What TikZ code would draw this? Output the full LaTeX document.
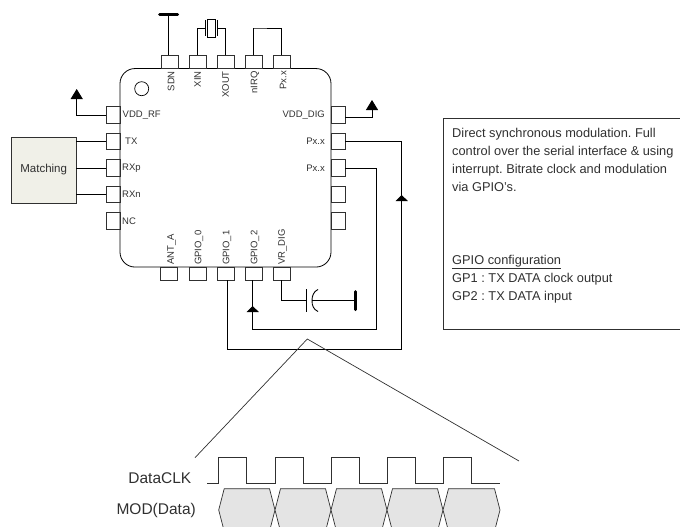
\documentclass[tikz,border=0pt]{standalone}
\usepackage{fontspec}
\setmainfont{Liberation Sans}
\usetikzlibrary{arrows.meta, positioning}
\definecolor{inkgray}{HTML}{303030}
\definecolor{matchfill}{HTML}{F0F0E8}
\definecolor{hexfill}{HTML}{E4E4E4}
\frenchspacing
\tikzset{
    wire/.style={draw=black, line width=.9pt},
    thin wire/.style={draw=inkgray, line width=.7pt},
    supply/.style={-{Triangle[width=12pt,length=10pt]}},
    midtip/.style={-{Triangle[width=12pt,length=6pt]}, draw=black, line width=.9pt},
    bar/.style={draw=black, line width=3pt, line cap=round},
    hpin/.style={draw=inkgray, line width=.8pt, minimum width=17pt, minimum height=13pt, inner sep=0pt, outer sep=0pt},
    vpin/.style={draw=inkgray, line width=.8pt, minimum width=14pt, minimum height=16.5pt, inner sep=0pt, outer sep=0pt},
    pinlabel/.style={font=\fontsize{9.5}{11}\selectfont, text=inkgray, inner sep=0pt},
    toplabel/.style={pinlabel, rotate=90, anchor=east},
    botlabel/.style={pinlabel, rotate=90, anchor=west},
    notetext/.style={font=\fontsize{12.8}{17.8}\selectfont, text=inkgray, align=left, inner sep=0pt, anchor=north west},
    wavelabel/.style={font=\fontsize{15.5}{18}\selectfont, text=inkgray, inner sep=0pt}
}

\begin{document}
\begin{tikzpicture}[x=1pt, y=-1pt]
    \useasboundingbox (0,0) rectangle (680,527);

    % chip and pins
    \node[draw=black, line width=.8pt, rounded corners=15pt, minimum width=211pt, minimum height=198.5pt, inner sep=0pt, outer sep=0pt] (chip) at (225.5,167.8) {};
    \node[hpin] (sdn) at (169.5,62) {};
    \node[hpin] (xin)[right=11pt of sdn]   {};
    \node[hpin] (xout)[right=11pt of xin]  {};
    \node[hpin] (nirq)[right=11pt of xout] {};
    \node[hpin] (pxtop)[right=11pt of nirq] {};
    \node[hpin] (anta) at (169,273.5) {};
    \node[hpin] (gpio0) at (197.5,273.5)    {};
    \node[hpin] (gpio1)[right=11pt of gpio0] {};
    \node[hpin] (gpio2)[right=11pt of gpio1] {};
    \node[hpin] (vrdig)[right=11pt of gpio2] {};
    \node[vpin] (vddrf) at (113,115) {};
    \node[vpin] (tx)[below=10pt of vddrf] {};
    \node[vpin] (rxp)[below=10pt of tx]   {};
    \node[vpin] (rxn)[below=10pt of rxp]  {};
    \node[vpin] (nc)[below=10pt of rxn]   {};
    \node[vpin] (vdddig) at (338,115) {};
    \node[vpin] (pxa)[below=10pt of vdddig] {};
    \node[vpin] (pxb)[below=10pt of pxa]    {};
    \node[vpin] (pxc)[below=10pt of pxb]    {};
    \node[vpin] (pxd)[below=10pt of pxc]    {};
    \node[draw=black, line width=.7pt, circle, minimum size=14pt, inner sep=0pt] (dot) at (141.7,88.7) {};

    % pin labels
    \node[toplabel] (sdnlabel) at ([xshift=1.5pt,yshift=-2.5pt]sdn.south) {SDN};
    \node[toplabel] (xinlabel) at ([yshift=-2.5pt]xin.south) {XIN};
    \node[toplabel] (xoutlabel) at ([yshift=-2.5pt]xout.south) {XOUT};
    \node[toplabel] (nirqlabel) at ([xshift=1.5pt,yshift=-2.5pt]nirq.south) {nIRQ};
    \node[toplabel] (pxtoplabel) at ([xshift=1.5pt,yshift=-2.5pt]pxtop.south) {Px.x};
    \node[botlabel] (antalabel) at ([xshift=2.5pt,yshift=2pt]anta.north) {ANT\_A};
    \node[botlabel] (gpio0label) at ([xshift=1.5pt,yshift=2pt]gpio0.north) {GPIO\_0};
    \node[botlabel] (gpio1label) at ([xshift=1.5pt,yshift=2pt]gpio1.north) {GPIO\_1};
    \node[botlabel] (gpio2label) at ([xshift=1.5pt,yshift=2pt]gpio2.north) {GPIO\_2};
    \node[botlabel] (vrdiglabel) at ([xshift=1pt,yshift=2pt]vrdig.north) {VR\_DIG};
    \node[pinlabel, right=2.5pt of vddrf] (vddrflabel) {VDD\_RF};
    \node[pinlabel, right=5pt of tx]      (txlabel)    {TX};
    \node[pinlabel, right=2pt of rxp]     (rxplabel)   {RXp};
    \node[pinlabel, right=2pt of rxn]     (rxnlabel)   {RXn};
    \node[pinlabel, right=2pt of nc]      (nclabel)    {NC};
    \node[pinlabel, left=6pt of vdddig]   (vdddiglabel) {VDD\_DIG};
    \node[pinlabel, left=6pt of pxa]      (pxalabel)   {Px.x};
    \node[pinlabel, left=6pt of pxb]      (pxblabel)   {Px.x};

    % matching network
    \node[draw=inkgray, line width=.9pt, fill=matchfill, minimum width=64.5pt, minimum height=66pt, inner sep=0pt, outer sep=0pt, font=\fontsize{11.5}{13}\selectfont, text=inkgray] (matching) at (43.7,170) {Matching};
    \draw[wire]
        (tx.west)  -- (tx.west -| matching.east)
        (rxp.west) -- (rxp.west -| matching.east)
        (rxn.west) -- (rxn.west -| matching.east);

    % sdn tie and nirq loop
    \coordinate (sdnbar) at (168.7,15);
    \draw[bar] ([xshift=-9pt]sdnbar) -- ([xshift=9pt]sdnbar);
    \draw[wire] (sdnbar) -- (sdnbar |- sdn.north);
    \coordinate (nirqtop) at (253,28);
    \draw[wire] (nirq.north) |- (nirqtop) -| (pxtop.north);

    % crystal
    \node[draw=black, line width=.8pt, minimum width=7.5pt, minimum height=18pt, inner sep=0pt, outer sep=0pt] (crystal) at (211.4,28) {};
    \coordinate[left=6pt of crystal.center]  (xtala);
    \coordinate[right=6.3pt of crystal.center] (xtalb);
    \draw[wire] ([yshift=8pt]xtala) -- ([yshift=-8pt]xtala);
    \draw[wire] ([yshift=8pt]xtalb) -- ([yshift=-8pt]xtalb);
    \draw[wire] (xin.north) |- (xtala);
    \draw[wire] (xout.north) |- (xtalb);

    % supplies
    \coordinate (rfsupply) at (76.7,89);
    \coordinate (digsupply) at (372,100);
    \draw[wire, supply] (vddrf.west) -| (rfsupply);
    \draw[wire, supply] ([yshift=-2.5pt]vdddig.east) -| (digsupply);

    % gpio wires
    \coordinate (busa) at (401.7,349);
    \coordinate (busb) at (376.7,329.7);
    \draw[wire] (pxa.east) -| (busa) -| ([xshift=1.5pt]gpio1.south);
    \draw[wire] (pxb.east) -| (busb) -| ([xshift=-.8pt]gpio2.south);
    \coordinate (tipa) at (401.7,195);
    \coordinate (tipb) at (252.7,306);
    \draw[midtip] ([yshift=-6pt]tipa) -- (tipa);
    \draw[midtip] ([yshift=-6pt]tipb) -- (tipb);

    % vr_dig capacitor
    \coordinate (capa) at (306.7,300.7);
    \coordinate (capb) at (312,300.7);
    \coordinate (capgnd) at (355.7,300.7);
    \draw[wire] (vrdig.south) |- (capa);
    \draw[wire] ([yshift=11.3pt]capa) -- ([yshift=-11.3pt]capa);
    \draw[wire] (318,289.5) .. controls (313.5,291.5) and (312,296) .. (capb) .. controls (312,305.5) and (313.5,309.5) .. (318,311.5);
    \draw[wire] (capb) -- (capgnd);
    \draw[bar] ([yshift=9pt]capgnd) -- ([yshift=-9pt]capgnd);

    % note box
    \node[draw=inkgray, line width=.9pt, minimum width=246pt, minimum height=210.7pt, inner sep=0pt, outer sep=0pt, anchor=north west] (notebox) at (443.3,118.3) {};
    \node[notetext] (notedesc) at (452,128.5) {Direct synchronous modulation. Full\\control over the serial interface \& using\\interrupt. Bitrate clock and modulation\\via GPIO's.};
    \node[notetext] (noteconfig) at (452,255) {\underline{GPIO configuration}\\GP1 : TX DATA clock output\\GP2 : TX DATA input};

    % zoom lines
    \coordinate (zoomtop) at (307.3,339);
    \coordinate (zoomleft) at (195,457.7);
    \coordinate (zoomright) at (519,461);
    \draw[thin wire] (zoomleft) -- (zoomtop) -- (zoomright);

    % timing
    \node[wavelabel, anchor=east] (dataclk) at (191.5,478) {DataCLK};
    \node[wavelabel, anchor=east] (moddata) at (196,510) {MOD(Data)};
    \draw[thin wire] (207.3,483.3) -- (218.7,483.3) |- (246.7,457.3) |- (275,483.3) |- (303.3,457.3) |- (331,483.3) |- (359,457.3) |- (387,483.3) |- (415.7,457.3) |- (443,483.3) |- (471.7,457.3) |- (500,483.3);
    \begin{scope}
        \clip (0,0) rectangle (680,527);
        \foreach \a/\b in {218.7/275, 275/331, 331/387, 387/443, 443/500}
            \draw[thin wire, fill=hexfill] (\a,510) -- (\a+5.5,488.7) -- (\b-5.5,488.7) -- (\b,510) -- (\b-5.5,531.3) -- (\a+5.5,531.3) -- cycle;
    \end{scope}

\end{tikzpicture}
\end{document}
